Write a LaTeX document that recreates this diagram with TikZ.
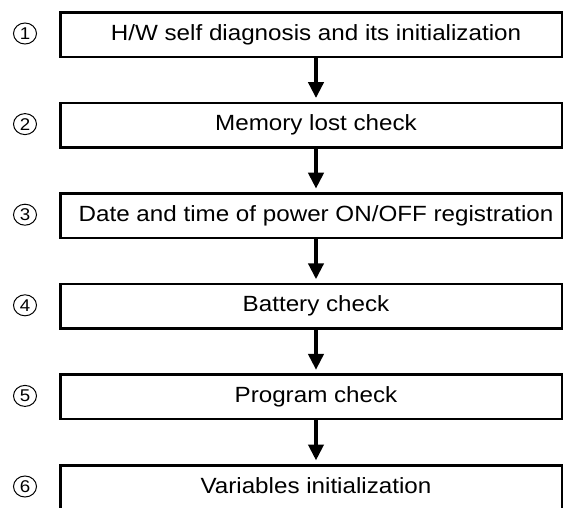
\documentclass[tikz,border=0pt]{standalone}
\usepackage{fontspec}
\setmainfont{Liberation Sans}[FakeStretch=1.1]
\usetikzlibrary{arrows.meta,shapes.geometric}
\begin{document}
\begin{tikzpicture}[x=1pt,y=-1pt,
  stepbox/.style={draw, line width=2.5pt, minimum width=502pt, minimum height=44.5pt,
    inner sep=0pt, anchor=north west},
  steptext/.style={font=\fontsize{22}{24}\selectfont, inner sep=0pt, anchor=base},
  stepnum/.style={draw, ellipse, line width=1pt, minimum width=23pt, minimum height=21pt,
    inner sep=0pt, font=\fontsize{17}{18}\selectfont},
  flow/.style={line width=4pt, -{Triangle[width=15pt,length=16pt]}, shorten >=3.5pt}]
\useasboundingbox (0,0) rectangle (563,507);
\foreach \i/\txt in {1/{H/W self diagnosis and its initialization},
                     2/{Memory lost check},
                     3/{Date and time of power ON/OFF registration},
                     4/{Battery check},
                     5/{Program check},
                     6/{Variables initialization}}{
  \pgfmathsetmacro{\top}{11+90.6*(\i-1)}
  \node[stepbox] (b\i) at (59,\top) {};
  \node[steptext] (t\i) at (316,\top+29) {\txt};
  \node[stepnum] (n\i) at (25,\top+22.5) {\i};
}
\foreach \i [evaluate=\i as \j using int(\i+1)] in {1,...,5}{
  \draw[flow] (t\i |- b\i.south) -- (t\j |- b\j.north);
}
\end{tikzpicture}
\end{document}
